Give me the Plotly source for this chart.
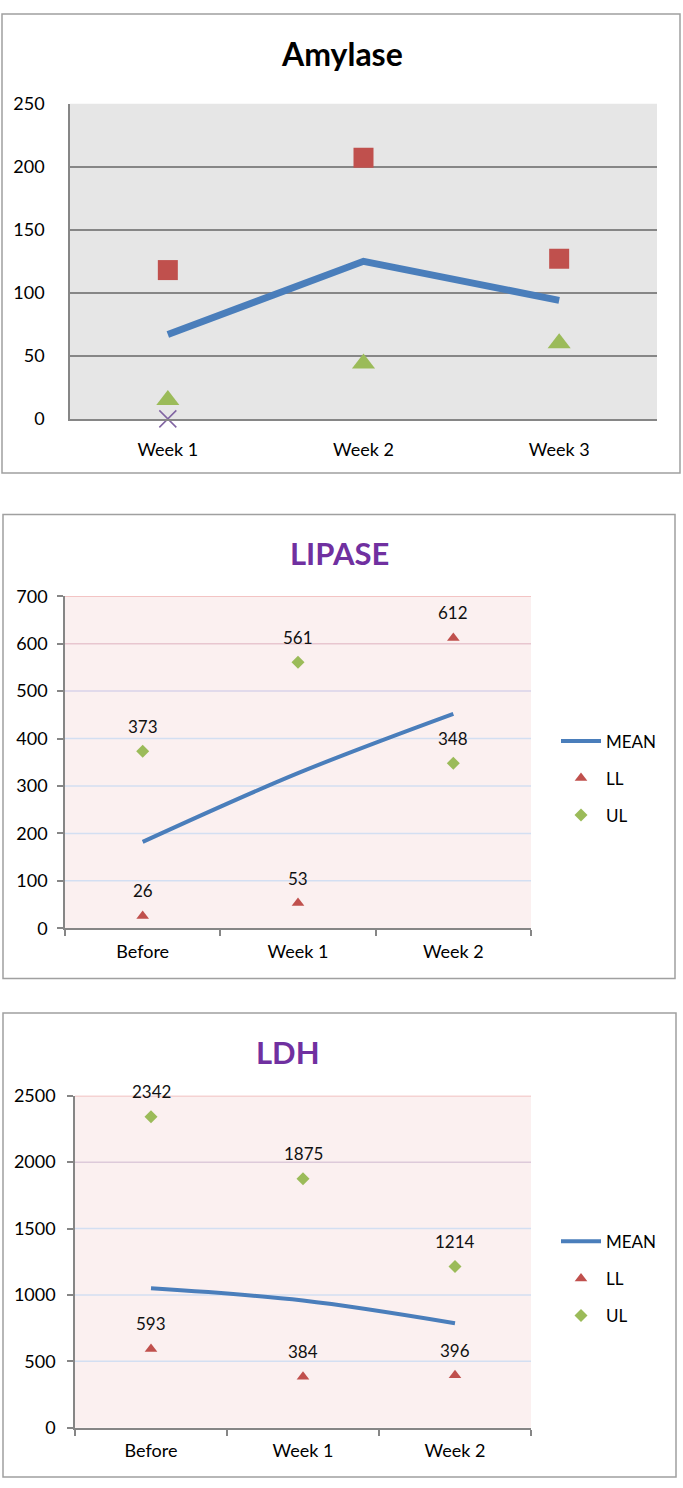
import plotly.graph_objects as go

W, H = 683, 1488
FONT = "Lato"

# ---------------- data ----------------
amy_cats = ["Week 1", "Week 2", "Week 3"]
amy_mean = [67, 125, 94]
amy_high = [118, 207, 127]
amy_low = [15, 44, 60]
amy_zero = [0, None, None]
amy_ticks = [0, 50, 100, 150, 200, 250]

lip_cats = ["Before", "Week 1", "Week 2"]
lip_mean = [182, 327, 452]
lip_ll = [26, 53, 612]
lip_ul = [373, 561, 348]
lip_ticks = [0, 100, 200, 300, 400, 500, 600, 700]

ldh_cats = ["Before", "Week 1", "Week 2"]
ldh_mean = [1050, 958, 787]
ldh_ll = [593, 384, 396]
ldh_ul = [2342, 1875, 1214]
ldh_ticks = [0, 500, 1000, 1500, 2000, 2500]

# styles
BLUE = "#4A7EBB"
RED = "#C0504D"
GREEN = "#9BBB59"
PURPLE = "#8064A2"
lip_grid_colors = [None, "#D3DFF2", "#D3DFF2", "#D3DFF2", "#D3DFF2", "#D8D3EA", "#E8C6CF", "#F0B4B4"]
ldh_grid_colors = [None, "#D3DFF2", "#D3DFF2", "#D3DFF2", "#DDCADA", "#F0B4B4"]


def px_x(p):
    return p / W


def px_y(p):
    return 1 - p / H


fig = go.Figure()

# ---------------- Amylase ----------------
fig.add_trace(go.Scatter(x=amy_cats, y=amy_mean, mode="lines", xaxis="x", yaxis="y",
                         line=dict(color=BLUE, width=7), showlegend=False, cliponaxis=False))
fig.add_trace(go.Scatter(x=amy_cats, y=amy_high, mode="markers", xaxis="x", yaxis="y",
                         marker=dict(symbol="square", size=20, color=RED), showlegend=False))
fig.add_trace(go.Scatter(x=amy_cats, y=amy_low, mode="markers", xaxis="x", yaxis="y",
                         marker=dict(symbol="triangle-up", size=20, color=GREEN), showlegend=False))
fig.add_trace(go.Scatter(x=amy_cats, y=amy_zero, mode="markers", xaxis="x", yaxis="y",
                         marker=dict(symbol="x-thin", size=17, color=PURPLE,
                                     line=dict(color=PURPLE, width=1.5)),
                         showlegend=False, cliponaxis=False))

# ---------------- LIPASE ----------------
fig.add_trace(go.Scatter(x=lip_cats, y=lip_mean, mode="lines", name="MEAN", xaxis="x2", yaxis="y2",
                         line=dict(color=BLUE, width=4, shape="spline"), legend="legend",
                         legendgroup="m1"))
fig.add_trace(go.Scatter(x=lip_cats, y=lip_ll, mode="markers", name="LL", xaxis="x2", yaxis="y2",
                         marker=dict(symbol="triangle-up", size=11, color=RED), legend="legend",
                         legendgroup="l1", cliponaxis=False))
fig.add_trace(go.Scatter(x=lip_cats, y=lip_ul, mode="markers", name="UL", xaxis="x2", yaxis="y2",
                         marker=dict(symbol="diamond", size=10, color=GREEN), legend="legend",
                         legendgroup="u1", cliponaxis=False))

# ---------------- LDH ----------------
fig.add_trace(go.Scatter(x=ldh_cats, y=ldh_mean, mode="lines", name="MEAN", xaxis="x3", yaxis="y3",
                         line=dict(color=BLUE, width=4, shape="spline"), legend="legend2",
                         legendgroup="m2"))
fig.add_trace(go.Scatter(x=ldh_cats, y=ldh_ll, mode="markers", name="LL", xaxis="x3", yaxis="y3",
                         marker=dict(symbol="triangle-up", size=11, color=RED), legend="legend2",
                         legendgroup="l2", cliponaxis=False))
fig.add_trace(go.Scatter(x=ldh_cats, y=ldh_ul, mode="markers", name="UL", xaxis="x3", yaxis="y3",
                         marker=dict(symbol="diamond", size=10, color=GREEN), legend="legend2",
                         legendgroup="u2", cliponaxis=False))

annotations = []
shapes = []

# data labels
for cats, series, ax in [(lip_cats, lip_ll, 2), (lip_cats, lip_ul, 2), (ldh_cats, ldh_ll, 3), (ldh_cats, ldh_ul, 3)]:
    for c, v in zip(cats, series):
        annotations.append(dict(x=c, y=v, xref=f"x{ax}", yref=f"y{ax}", text=str(v), showarrow=False,
                                yshift=25, font=dict(family=FONT, size=17, color="#111")))

# titles
annotations.append(dict(x=px_x(342), y=px_y(42), xref="paper", yref="paper", text="<b>Amylase</b>",
                        showarrow=False, font=dict(family=FONT, size=32, color="#000"),
                        xanchor="center", yanchor="middle"))
annotations.append(dict(x=px_x(339), y=px_y(549), xref="paper", yref="paper", text="<b>LIPASE</b>",
                        showarrow=False, font=dict(family=FONT, size=31, color="#7030A0"),
                        xanchor="center", yanchor="middle"))
annotations.append(dict(x=px_x(288), y=px_y(1056), xref="paper", yref="paper", text="<b>LDH</b>",
                        showarrow=False, font=dict(family=FONT, size=31, color="#7030A0"),
                        xanchor="center", yanchor="middle"))

# plot backgrounds
shapes.append(dict(type="rect", xref="x domain", yref="y domain", x0=0, x1=1, y0=0, y1=1,
                   fillcolor="#E6E6E6", line=dict(width=0), layer="below"))
shapes.append(dict(type="rect", xref="x2 domain", yref="y2 domain", x0=0, x1=1, y0=0, y1=1,
                   fillcolor="#FBF0F0", line=dict(width=0), layer="below"))
shapes.append(dict(type="rect", xref="x3 domain", yref="y3 domain", x0=0, x1=1, y0=0, y1=1,
                   fillcolor="#FBF0F0", line=dict(width=0), layer="below"))

# gradient gridlines for LIPASE and LDH
for ticks, cols, ax in [(lip_ticks, lip_grid_colors, 2), (ldh_ticks, ldh_grid_colors, 3)]:
    for t, c in zip(ticks, cols):
        if c is None:
            continue
        shapes.append(dict(type="line", xref=f"x{ax} domain", yref=f"y{ax}", x0=0, x1=1, y0=t, y1=t,
                           line=dict(color=c, width=1.5), layer="below"))

# panel borders
for (x0, y0, x1, y1) in [(2, 2, 680, 468), (3, 510, 675, 981), (3, 1016, 676, 1487)]:
    shapes.append(dict(type="rect", xref="paper", yref="paper", x0=px_x(x0), x1=px_x(x1),
                       y0=px_y(y1), y1=px_y(y0), line=dict(color="#A0A0A0", width=1.5),
                       fillcolor="rgba(0,0,0,0)", layer="above"))

tickfont = dict(family=FONT, size=18, color="#000")
axis_grey = "#868686"

fig.update_layout(
    width=W, height=H, autosize=False,
    margin=dict(l=0, r=0, t=0, b=0),
    paper_bgcolor="white", plot_bgcolor="rgba(0,0,0,0)",
    showlegend=True,
    annotations=annotations,
    shapes=shapes,
    xaxis=dict(domain=[px_x(70), px_x(657)], anchor="y", type="category", range=[-0.5, 2.5],
               showgrid=False, zeroline=False, showline=True, linecolor=axis_grey, linewidth=1.5,
               ticks="", tickfont=tickfont, ticklabelstandoff=14, fixedrange=True),
    yaxis=dict(domain=[px_y(413), px_y(93)], anchor="x", range=[0, 250], tickvals=amy_ticks,
               showgrid=True, gridcolor=axis_grey, gridwidth=1.5, zeroline=False,
               showline=True, linecolor=axis_grey, linewidth=1.5, ticks="",
               tickfont=tickfont, ticklabelstandoff=20),
    xaxis2=dict(domain=[px_x(65), px_x(531)], anchor="y2", type="category", range=[-0.5, 2.5],
                showgrid=False, zeroline=False, showline=True, linecolor=axis_grey, linewidth=1.5,
                ticks="outside", tickson="boundaries", ticklen=6, tickcolor=axis_grey, tickwidth=1.5,
                tickfont=tickfont, ticklabelstandoff=6),
    yaxis2=dict(domain=[px_y(930), px_y(593)], anchor="x2", range=[0, 700], tickvals=lip_ticks,
                showgrid=False, zeroline=False, showline=True, linecolor=axis_grey, linewidth=1.5,
                ticks="outside", ticklen=6, tickcolor=axis_grey, tickwidth=1.5,
                tickfont=tickfont, ticklabelstandoff=6),
    xaxis3=dict(domain=[px_x(75), px_x(531)], anchor="y3", type="category", range=[-0.5, 2.5],
                showgrid=False, zeroline=False, showline=True, linecolor=axis_grey, linewidth=1.5,
                ticks="outside", tickson="boundaries", ticklen=6, tickcolor=axis_grey, tickwidth=1.5,
                tickfont=tickfont, ticklabelstandoff=6),
    yaxis3=dict(domain=[px_y(1437), px_y(1100)], anchor="x3", range=[0, 2500], tickvals=ldh_ticks,
                showgrid=False, zeroline=False, showline=True, linecolor=axis_grey, linewidth=1.5,
                ticks="outside", ticklen=6, tickcolor=axis_grey, tickwidth=1.5,
                tickfont=tickfont, ticklabelstandoff=8),
    legend=dict(x=px_x(556), y=px_y(722), xanchor="left", yanchor="top",
                font=dict(family=FONT, size=17, color="#000"), tracegroupgap=12,
                bgcolor="rgba(0,0,0,0)", itemwidth=40),
    legend2=dict(x=px_x(556), y=px_y(1230), xanchor="left", yanchor="top",
                 font=dict(family=FONT, size=17, color="#000"), tracegroupgap=12,
                 bgcolor="rgba(0,0,0,0)", itemwidth=40),
)

fig.write_html("out.html", config={"displayModeBar": False},
               post_script="document.body.style.margin='0';document.body.style.padding='0';"
                           "document.documentElement.style.overflow='hidden';")
